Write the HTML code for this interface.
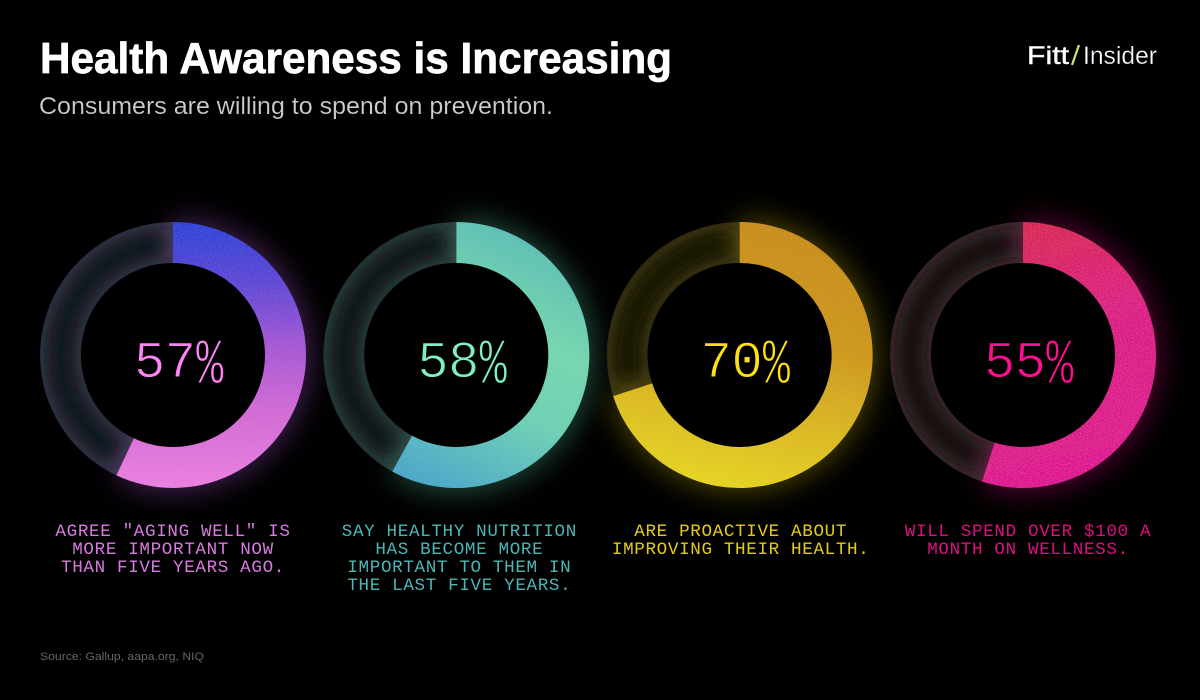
<!DOCTYPE html>
<html lang="en">
<head>
<meta charset="utf-8">
<title>Health Awareness is Increasing</title>
<style>
html,body{margin:0;padding:0;background:#000;width:1200px;height:700px;overflow:hidden}
svg{display:block}
text{white-space:pre}
.sans{font-family:"Liberation Sans",sans-serif}
.mono{font-family:"Liberation Mono",monospace}
.pct-0{fill:#ff84f6}.pct-1{fill:#80f0c0}.pct-2{fill:#ffe010}.pct-3{fill:#ff0f90}
.thin{stroke:#000;stroke-width:.9px}
.cap-0{fill:#d97ade}.cap-1{fill:#4db5b5;transform:translateX(3px)}.cap-2{fill:#e3cc18;transform:translateX(1px)}.cap-3{fill:#dd0f80;transform:translateX(5px)}
.glow-0{fill:#b058d8}.glow-1{fill:#58c8a0}.glow-2{fill:#c8b010}.glow-3{fill:#e01088}
.edge-0{fill:#3a3648}.edge-1{fill:#2e3f3d}.edge-2{fill:#3c3414}.edge-3{fill:#3c3032}
.core-0{stroke:#10121a}.core-1{stroke:#0c1615}.core-2{stroke:#181304}.core-3{stroke:#140f0e}
</style>
</head>
<body>
<svg id="chart" xmlns="http://www.w3.org/2000/svg" width="1200" height="700" viewBox="0 0 1200 700">
<defs>
<linearGradient id="grad-0" gradientUnits="userSpaceOnUse" x1="0" y1="-133" x2="0" y2="133">
<stop offset="0" stop-color="#2a40d8"/><stop offset=".22" stop-color="#5a44d4"/><stop offset=".45" stop-color="#a254d4"/><stop offset=".7" stop-color="#d068d4"/><stop offset="1" stop-color="#ea7ee0"/>
</linearGradient>
<linearGradient id="grad-1" gradientUnits="userSpaceOnUse" x1="60" y1="-133" x2="-60" y2="125">
<stop offset="0" stop-color="#58bcb4"/><stop offset=".35" stop-color="#74d6ae"/><stop offset=".62" stop-color="#6ccfb4"/><stop offset="1" stop-color="#44a4ca"/>
</linearGradient>
<linearGradient id="grad-2" gradientUnits="userSpaceOnUse" x1="30" y1="-133" x2="-30" y2="133">
<stop offset="0" stop-color="#c88c0c"/><stop offset=".4" stop-color="#cd9710"/><stop offset=".75" stop-color="#dcbc16"/><stop offset="1" stop-color="#e6d414"/>
</linearGradient>
<linearGradient id="grad-3" gradientUnits="userSpaceOnUse" x1="-30" y1="-133" x2="30" y2="133">
<stop offset="0" stop-color="#d92450"/><stop offset=".4" stop-color="#dc1a84"/><stop offset="1" stop-color="#de1090"/>
</linearGradient>
<filter id="grain" x="0" y="0" width="100%" height="100%">
<feTurbulence type="fractalNoise" baseFrequency="0.85" numOctaves="2" seed="4" result="n"/>
<feColorMatrix in="n" type="matrix" values="0 0 0 0 1 0 0 0 0 1 0 0 0 0 1 0.16 0 0 0 -0.065" result="w"/>
<feComposite in="w" in2="SourceGraphic" operator="in" result="g"/>
<feMerge><feMergeNode in="SourceGraphic"/><feMergeNode in="g"/></feMerge>
</filter>
<filter id="glow-blur" x="-40%" y="-40%" width="180%" height="180%"><feGaussianBlur stdDeviation="15"/></filter>
<filter id="core-blur" x="-40%" y="-40%" width="180%" height="180%"><feGaussianBlur stdDeviation="8"/></filter>
</defs>
<rect width="1200" height="700" fill="#000"/>
<text class="sans" x="40" y="73" font-size="44" font-weight="700" fill="#fff" stroke="#fff" stroke-width=".7" textLength="632" lengthAdjust="spacingAndGlyphs">Health Awareness is Increasing</text>
<text class="sans" x="39" y="114" font-size="24.5" fill="#cccccc" stroke="#000" stroke-width=".12" textLength="514" lengthAdjust="spacingAndGlyphs">Consumers are willing to spend on prevention.</text>
<g>
<text class="sans" x="1027" y="64" font-size="25" fill="#fff" stroke="#fff" stroke-width=".4" textLength="42" lengthAdjust="spacingAndGlyphs">Fitt</text>
<line x1="1072" y1="65" x2="1079" y2="45" stroke="#d4e46a" stroke-width="2.2"/>
<text class="sans" x="1083" y="64" font-size="25" fill="#fff" stroke="#000" stroke-width=".3" textLength="74" lengthAdjust="spacingAndGlyphs">Insider</text>
</g>
<g id="donuts"></g>
<text class="sans" x="40" y="660" font-size="11" fill="#666" textLength="164" lengthAdjust="spacingAndGlyphs">Source: Gallup, aapa.org, NIQ</text>
</svg>
<script>
const categories = ["aging-well", "healthy-nutrition", "proactive-health", "wellness-spend"];
const percentValues = [57, 58, 70, 55];
const captionLines = [
  ["AGREE \"AGING WELL\" IS", "MORE IMPORTANT NOW", "THAN FIVE YEARS AGO."],
  ["SAY HEALTHY NUTRITION", "HAS BECOME MORE", "IMPORTANT TO THEM IN", "THE LAST FIVE YEARS."],
  ["ARE PROACTIVE ABOUT", "IMPROVING THEIR HEALTH."],
  ["WILL SPEND OVER $100 A", "MONTH ON WELLNESS."]
];

const NS = "http://www.w3.org/2000/svg";
const R_OUT = 133, R_IN = 92, CY = 355;
const xScale = i => 173 + i * 283.33;
const angleScale = v => v / 100 * 2 * Math.PI;
const pt = (r, a) => [r * Math.sin(a), -r * Math.cos(a)];
function sector(a0, a1, rOut, rIn) {
  const large = a1 - a0 > Math.PI ? 1 : 0;
  const [x0, y0] = pt(rOut, a0), [x1, y1] = pt(rOut, a1), [x2, y2] = pt(rIn, a1), [x3, y3] = pt(rIn, a0);
  return `M${x0} ${y0}A${rOut} ${rOut} 0 ${large} 1 ${x1} ${y1}L${x2} ${y2}A${rIn} ${rIn} 0 ${large} 0 ${x3} ${y3}Z`;
}
function arcLine(a0, a1, r) {
  const large = a1 - a0 > Math.PI ? 1 : 0;
  const [x0, y0] = pt(r, a0), [x1, y1] = pt(r, a1);
  return `M${x0} ${y0}A${r} ${r} 0 ${large} 1 ${x1} ${y1}`;
}
const make = (tag, parent) => parent.appendChild(document.createElementNS(NS, tag));
const root = document.getElementById("donuts");

percentValues.forEach((v, i) => {
  const cat = categories[i];
  const end = angleScale(v);
  const full = 2 * Math.PI - 0.0001;

  const g = make("g", root);
  g.setAttribute("transform", `translate(${xScale(i)} ${CY})`);
  
  

  const glow = make("path", g);
  glow.setAttribute("d", sector(0, end, R_OUT + 3, R_IN));
  glow.setAttribute("class", `glow-${i}`);
  glow.setAttribute("filter", "url(#glow-blur)");
  glow.setAttribute("opacity", "0.4");
  
  

  const hole = make("circle", g);
  hole.setAttribute("r", R_IN);
  hole.setAttribute("fill", "#000");
  
  

  const clip = make("clipPath", g);
  clip.setAttribute("id", `track-clip-${i}`);
  const clipShape = make("path", clip);
  clipShape.setAttribute("d", sector(end, full, R_OUT, R_IN));

  const track = make("g", g);
  track.setAttribute("clip-path", `url(#track-clip-${i})`);
  
  

  const edge = make("path", track);
  edge.setAttribute("d", sector(end, full, R_OUT, R_IN));
  edge.setAttribute("class", `edge-${i}`);
  
  

  const core = make("path", track);
  core.setAttribute("d", arcLine(end + 0.06, full - 0.06, (R_OUT + R_IN) / 2));
  core.setAttribute("class", `core-${i}`);
  core.setAttribute("fill", "none");
  core.setAttribute("stroke-width", "28");
  core.setAttribute("filter", "url(#core-blur)");
  
  

  const bleed = make("path", track);
  bleed.setAttribute("d", sector(0, end, R_OUT, R_IN));
  bleed.setAttribute("class", `glow-${i}`);
  bleed.setAttribute("filter", "url(#glow-blur)");
  bleed.setAttribute("opacity", "0.35");
  
  

  const arc = make("path", g);
  arc.setAttribute("d", sector(0, end, R_OUT, R_IN));
  arc.setAttribute("fill", `url(#grad-${i})`);
  arc.setAttribute("filter", "url(#grain)");
  
  

  const num = make("text", g);
  num.textContent = String(v);
  num.setAttribute("class", `mono thin pct-${i}`);
  num.setAttribute("x", "-39");
  num.setAttribute("y", "22");
  num.setAttribute("font-size", "52");
  num.setAttribute("textLength", "62");
  
  

  const sign = make("text", g);
  sign.textContent = "%";
  sign.setAttribute("class", `mono thin pct-${i}`);
  sign.setAttribute("font-size", "46");
  sign.setAttribute("transform", "translate(23 28) scale(1 1.42)");
  
  

  captionLines[i].forEach((line, k) => {
    const t = make("text", g);
    t.textContent = line;
    t.setAttribute("class", `mono cap-${i}`);
    t.setAttribute("text-anchor", "middle");
    t.setAttribute("x", "0");
    t.setAttribute("y", 181 + k * 18);
    t.setAttribute("font-size", "17.6");
    t.setAttribute("letter-spacing", "0.64");
    
    
  });
});
</script>
</body>
</html>
